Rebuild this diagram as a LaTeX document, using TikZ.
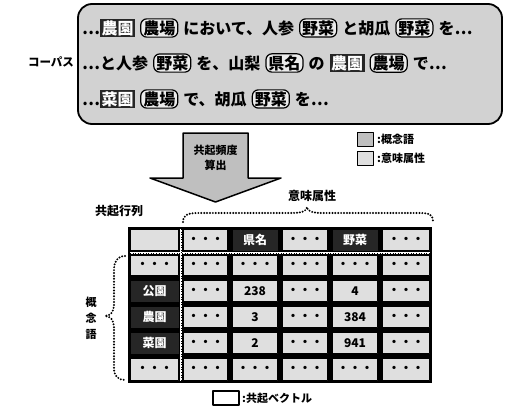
\documentclass[tikz,border=0pt]{standalone}
\usepackage{fontspec}
\setmainfont{Noto Sans CJK JP}
\newcommand\mycolA{{128,181,230,280,330,380}}
\newcommand\mycolB{{181,230,280,330,380,432}}
\newcommand\CW[1]{\tikz[baseline=(b.base)]\node[cwbox](b){#1};}
\newcommand\SA[1]{\tikz[baseline=(b.base)]\node[sabox](b){#1};}
\newcommand\mygap{\hspace{5pt}}
\newcommand\mydots{・・・}
\newcommand\tabrow[4]{%
  \foreach [count=\i from 0] \t in {#4} {
    \pgfmathsetmacro\xa{\mycolA[\i]}
    \pgfmathsetmacro\xb{\mycolB[\i]}
    \node[cellbox, minimum width={\xb-\xa-5}, minimum height={#3-#2-5}]
      (c#1\i) at ({(\xa+\xb)/2},{(#2+#3)/2}) {\t};
  }}
\begin{document}
\begin{tikzpicture}[x=1pt,y=-1pt,line join=round,
  cwbox/.style={fill=black!85,text=white,inner xsep=1.5pt,inner ysep=1.5pt},
  sabox/.style={draw=black,line width=1.2pt,fill=gray!15,rounded corners=6pt,inner xsep=2.5pt,inner ysep=1.5pt},
  cellbox/.style={fill=gray!25,draw=black,line width=0.5pt,inner sep=0pt,font=\fontsize{12}{13}\bfseries},
  lbl/.style={font=\fontsize{12}{14}\bfseries,inner sep=1pt},
  legtxt/.style={font=\fontsize{11}{13}\bfseries,inner sep=1pt,anchor=west},
  dotline/.style={line width=2.2pt,line cap=round,dash pattern=on 0pt off 2.9pt},
  corpusline/.style={font=\fontsize{16}{18}\bfseries,inner sep=0pt,anchor=west}]
\useasboundingbox (0,0) rectangle (512,415);
\fill[white] (0,0) rectangle (512,415);

% corpus
\node[draw=black,line width=1.8pt,fill=gray!35,rounded corners=14pt,
  minimum width=424,minimum height=120,inner sep=0pt] (corpus) at (290,64) {};
\node[lbl,font=\fontsize{11.5}{13}\bfseries] (corpuslbl) at (51,62) {コーパス};
\node[corpusline] (l1) at (82,28) {…\CW{農園}\mygap\SA{農場}\mygap において、人参\mygap\SA{野菜}\mygap と胡瓜\mygap\SA{野菜}\mygap を…};
\node[corpusline] (l2) at (82,63) {…と人参\mygap\SA{野菜}\mygap を、山梨\mygap\SA{県名}\mygap の\mygap\CW{農園}\mygap\SA{農場}\mygap で…};
\node[corpusline] (l3) at (82,99) {…\CW{菜園}\mygap\SA{農場}\mygap で、胡瓜\mygap\SA{野菜}\mygap を…};

% arrow
\draw[line width=1.5pt,fill=gray!50] (183,133) -- (248,133) -- (248,178) -- (281,178)
  -- (215.5,202) -- (150,178) -- (183,178) -- cycle;
\node[lbl,align=center,font=\fontsize{11}{15}\bfseries] (arrowlbl) at (215.5,158) {共起頻度\\算出};

% legend
\node[draw=black,line width=1pt,fill=gray!50,minimum width=16,minimum height=14,inner sep=0pt] (legcw) at (365,139) {};
\node[legtxt] (legcwt) at (376,139) {:概念語};
\node[draw=black,line width=1pt,fill=gray!25,minimum width=16,minimum height=14,inner sep=0pt] (legsa) at (365,158) {};
\node[legtxt] (legsat) at (376,158) {:意味属性};

% labels
\node[lbl] (mat) at (119,211) {共起行列};
\node[lbl] (attr) at (312,196) {意味属性};
\node[lbl,align=center,font=\fontsize{11}{16}\bfseries] (cw) at (91,318) {概\\念\\語};

% braces
\draw[dotline] (183,222) .. controls (183,215) and (188,213) .. (198,213) -- (292,213)
  .. controls (302,213) and (307,211) .. (307,207)
  .. controls (307,211) and (312,213) .. (322,213) -- (420,213)
  .. controls (430,213) and (433,215) .. (433,222);
\draw[dotline] (125,256) .. controls (117,256) and (114,262) .. (114,270) -- (114,305)
  .. controls (114,312) and (110,316) .. (105,316)
  .. controls (110,316) and (114,320) .. (114,327) -- (114,368)
  .. controls (114,376) and (118,380) .. (125,380);

% table
\fill[black] (128,227) rectangle (432,383);
\tabrow{0}{227}{253}{{},{\mydots},{\CW{県名}},{\mydots},{\CW{野菜}},{\mydots}}
\tabrow{1}{253}{278}{{\mydots},{\mydots},{\mydots},{\mydots},{\mydots},{\mydots}}
\tabrow{2}{278}{304}{{\CW{公園}},{\mydots},{238},{\mydots},{4},{\mydots}}
\tabrow{3}{304}{330}{{\CW{農園}},{\mydots},{3},{\mydots},{384},{\mydots}}
\tabrow{4}{330}{356}{{\CW{菜園}},{\mydots},{2},{\mydots},{941},{\mydots}}
\tabrow{5}{356}{383}{{\mydots},{\mydots},{\mydots},{\mydots},{\mydots},{\mydots}}
\draw[white,line width=1.6pt] (130,253) -- (430,253);
\draw[black,line width=0.6pt,dotted] (130,253) -- (430,253);
\draw[white,line width=1.4pt] (181,229) -- (181,381);
\draw[black,line width=0.6pt,dotted] (181,229) -- (181,381);

% vector legend
\node[draw=black,line width=1.5pt,fill=white,minimum width=26,minimum height=14,inner sep=0pt] (legvec) at (226,398) {};
\node[legtxt] (legvect) at (241,398) {:共起ベクトル};
\end{tikzpicture}
\end{document}
